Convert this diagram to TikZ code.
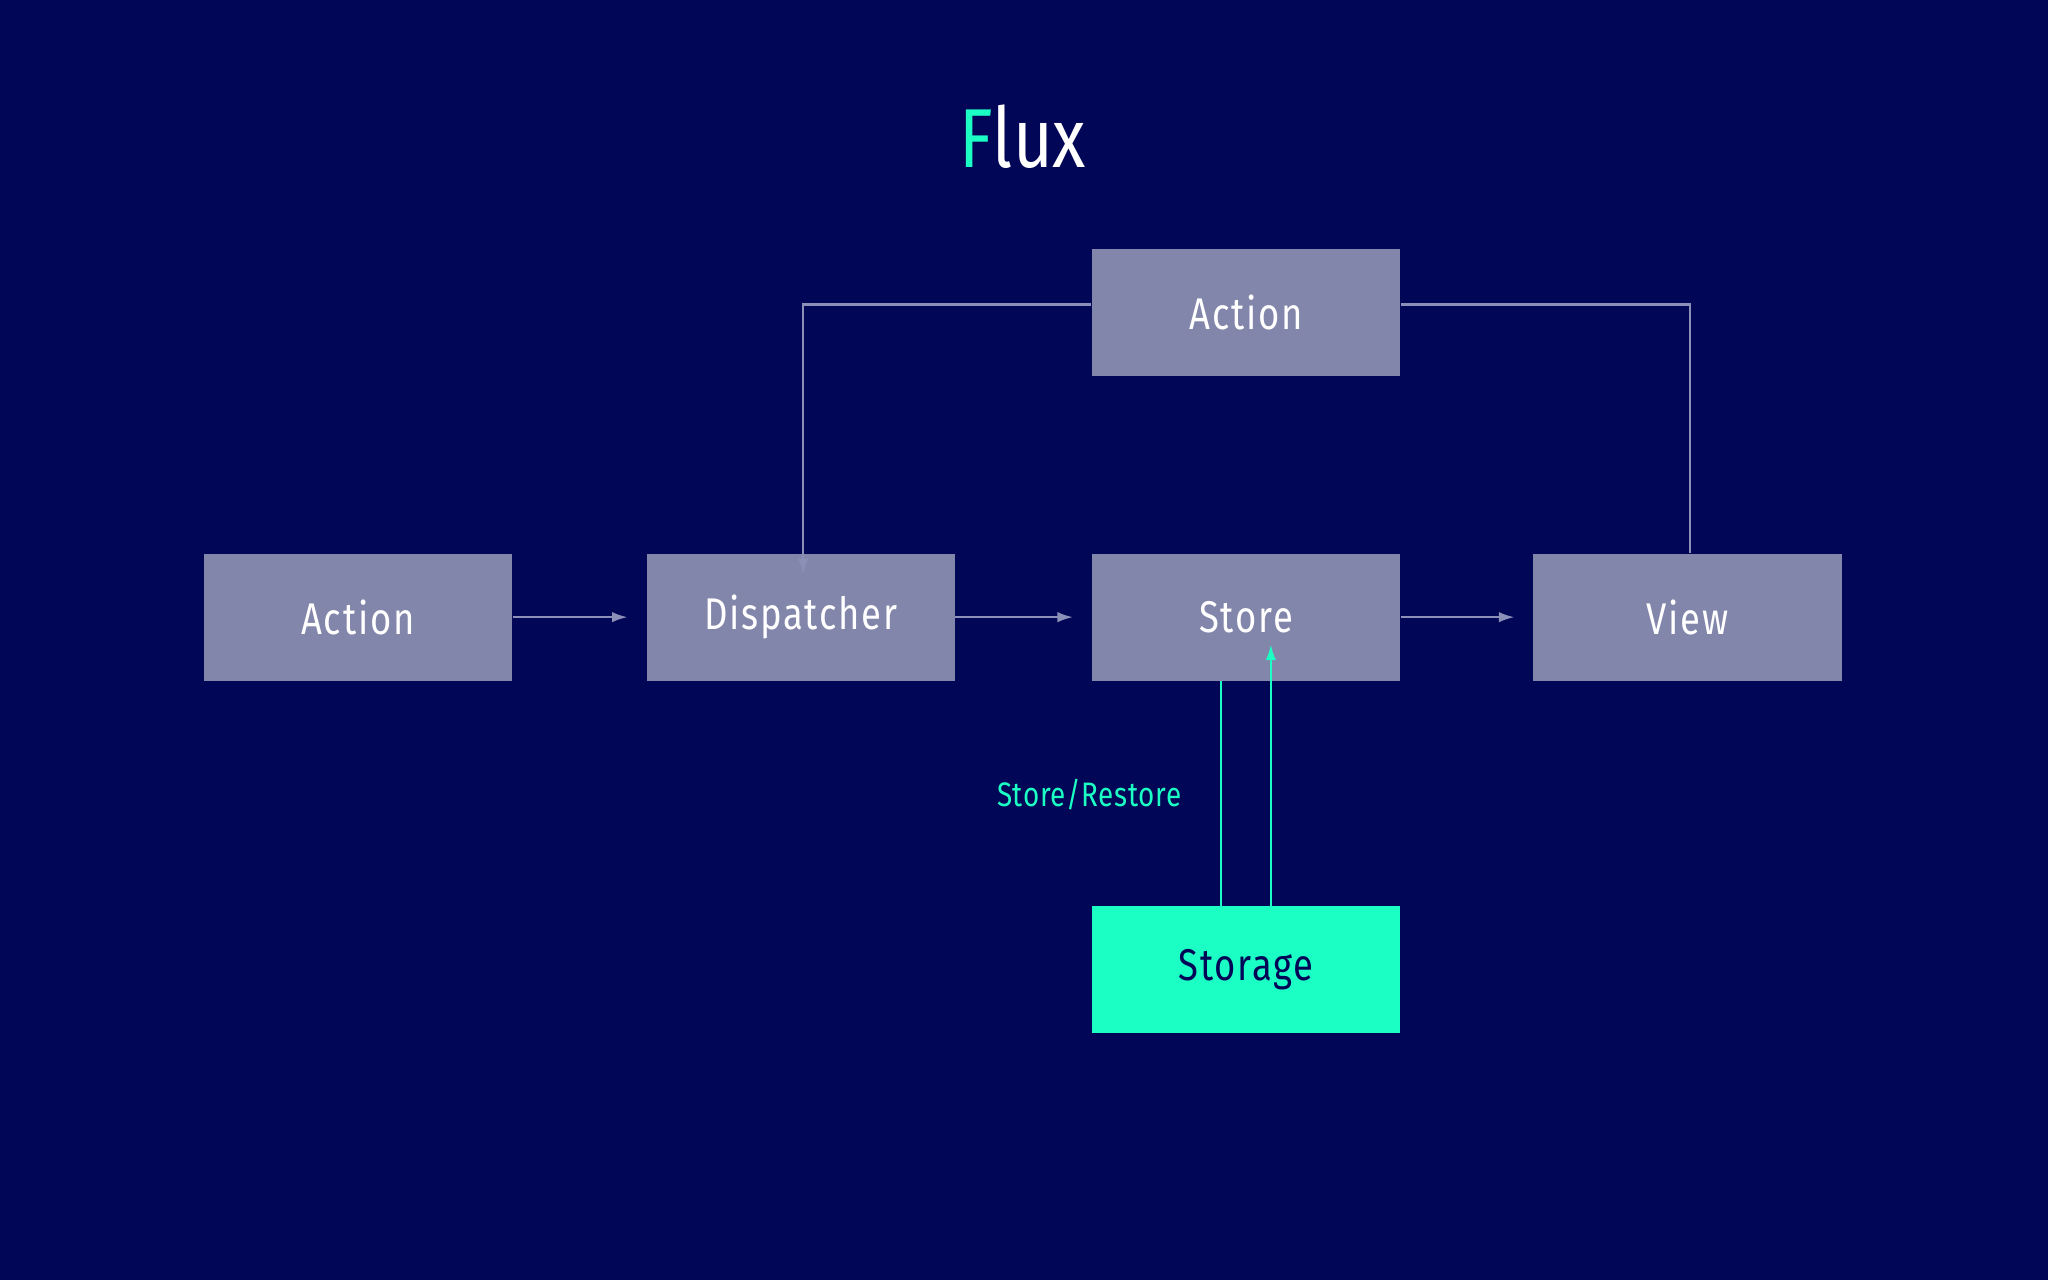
\documentclass[tikz,border=0pt]{standalone}
\usepackage{fontspec}
\setmainfont{Fira Sans}[FakeStretch=0.82]
\usetikzlibrary{arrows.meta}
\definecolor{bg}{HTML}{020656}
\definecolor{boxc}{HTML}{8286AA}
\definecolor{teal}{HTML}{1CFFC4}
\definecolor{linec}{HTML}{8C90B8}
\begin{document}
\begin{tikzpicture}[x=0.5pt,y=-0.5pt,
  box/.style={draw=none,fill=boxc,minimum width=118pt,minimum height=48.5pt,inner sep=0,text=white,font=\fontsize{17}{20}\selectfont\addfontfeature{LetterSpace=4}},
  conn/.style={draw=linec,line width=0.9pt,-{Latex[length=6pt,width=4pt]}},
  tconn/.style={draw=teal,line width=0.9pt,-{Latex[length=6pt,width=4pt]}}]
\fill[bg] (0,0) rectangle (1568,980);
\useasboundingbox (0,0) rectangle (1568,980);
\node[font=\fontsize{32}{36}\selectfont,text=white] (title) at (783,105) {\textcolor{teal}{F}lux};
\node[box] (a1) at (274,472.5) {Action};
\node[box] (d) at (613,472.5) {Dispatcher};
\node[box] (s) at (954,472.5) {Store};
\node[box] (v) at (1292,472.5) {View};
\node[box] (a2) at (954,239) {Action};
\node[box,fill=teal,text=bg] (st) at (954,742.5) {Storage};
\coordinate (tl) at (615,233);
\coordinate (tr) at (1294,233);
\draw[conn] (a1.east) -- ([xshift=-7]d.west);
\draw[conn] (d.east) -- ([xshift=-7]s.west);
\draw[conn] (s.east) -- ([xshift=-7]v.west);
\draw[conn] (a2.west|-tl) -- (tl) -- ([yshift=-8]d.north-|tl);
\draw[draw=linec,line width=0.9pt] (a2.east|-tr) -- (tr) -- (v.north-|tr);
\draw[tconn] (s.south-|935,0) -- ([yshift=-14]st.north-|935,0);
\draw[tconn] (st.north-|973,0) -- ([yshift=14]s.south-|973,0);
\node[text=teal,font=\fontsize{13}{16}\selectfont\addfontfeature{LetterSpace=2}] (lbl) at (834,608) {Store/Restore};
\end{tikzpicture}
\end{document}
